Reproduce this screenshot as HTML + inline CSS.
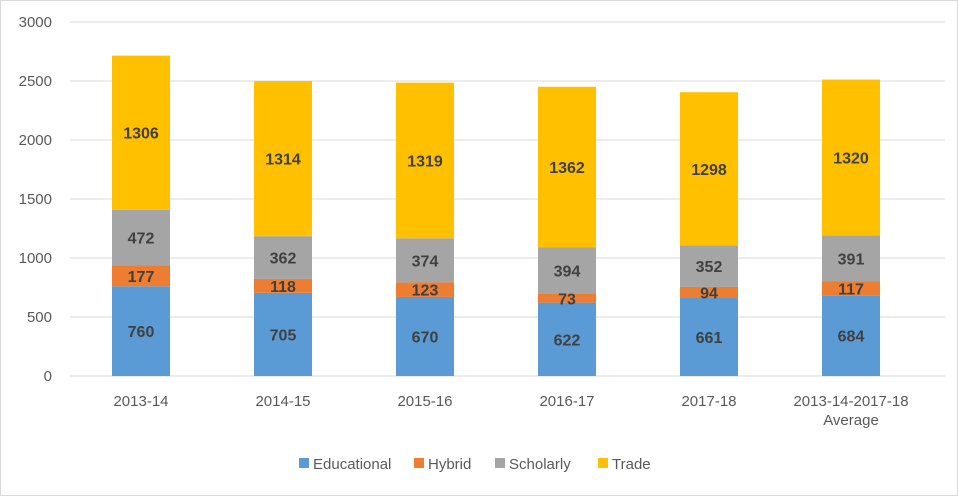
<!DOCTYPE html>
<html><head><meta charset="utf-8"><style>
body{margin:0;background:#fff;}
svg{display:block;font-family:"Liberation Sans",sans-serif;}
</style></head><body>
<svg width="958" height="496">
<rect x="0.5" y="0.5" width="957" height="495" fill="#fff" stroke="#d9d9d9"/>
<g id="grid"></g><g id="bars"></g><g id="labels"></g>
<g id="legend"></g>
</svg>
<script>
const categories=["2013-14","2014-15","2015-16","2016-17","2017-18","2013-14-2017-18|Average"];
const educational=[760,705,670,622,661,684];
const hybrid=[177,118,123,73,94,117];
const scholarly=[472,362,374,394,352,391];
const trade=[1306,1314,1319,1362,1298,1320];
const yTicks=[0,500,1000,1500,2000,2500,3000];
const seriesNames=["Educational","Hybrid","Scholarly","Trade"];
const seriesColors=["#5b9bd5","#ed7d31","#a5a5a5","#ffc000"];
const series=[educational,hybrid,scholarly,trade];
const NS="http://www.w3.org/2000/svg";
const x0=70,x1=945,yBase=376,yTop=22,yMax=3000;
const y=v=>yBase-(v/yMax)*(yBase-yTop);
const band=142;
const xc=i=>x0+band*(i+0.5);
const bw=58;
function mk(tag,attrs,parent,text){const e=document.createElementNS(NS,tag);for(const k in attrs)e.setAttribute(k,attrs[k]);if(text!==undefined)e.textContent=text;parent.appendChild(e);return e;}
const grid=document.getElementById('grid'),bars=document.getElementById('bars'),labels=document.getElementById('labels'),legend=document.getElementById('legend');
yTicks.forEach(t=>{
 const l=mk('line',{x1:x0,x2:x1,y1:y(t),y2:y(t),stroke:'#d9d9d9','stroke-width':1},grid);
 
 
 const tx=mk('text',{x:52,y:y(t)+5,'text-anchor':'end','font-size':15,fill:'#595959'},grid,t);
 
 
});
categories.forEach((c,i)=>{
 let acc=0;
 series.forEach((s,k)=>{
  const v=s[i];
  const r=mk('rect',{x:xc(i)-bw/2,y:y(acc+v),width:bw,height:y(acc)-y(acc+v),fill:seriesColors[k]},bars);
  
  
  const t=mk('text',{x:xc(i),y:(y(acc)+y(acc+v))/2+6,'text-anchor':'middle','font-size':16,'font-weight':'bold',fill:'#404040'},labels,v);
  
  
  acc+=v;
 });
 c.split('|').forEach((line,j)=>{
  const t=mk('text',{x:xc(i),y:406+j*19,'text-anchor':'middle','font-size':15,fill:'#595959'},labels,line);
  
  
 });
});
const lx=[299,414,495,598];
seriesNames.forEach((n,k)=>{
 const r=mk('rect',{x:lx[k],y:458,width:10,height:10,fill:seriesColors[k]},legend);
 
 
 const t=mk('text',{x:lx[k]+14,y:469,'font-size':15,fill:'#595959'},legend,n);
 
 
});
</script>
</body></html>
